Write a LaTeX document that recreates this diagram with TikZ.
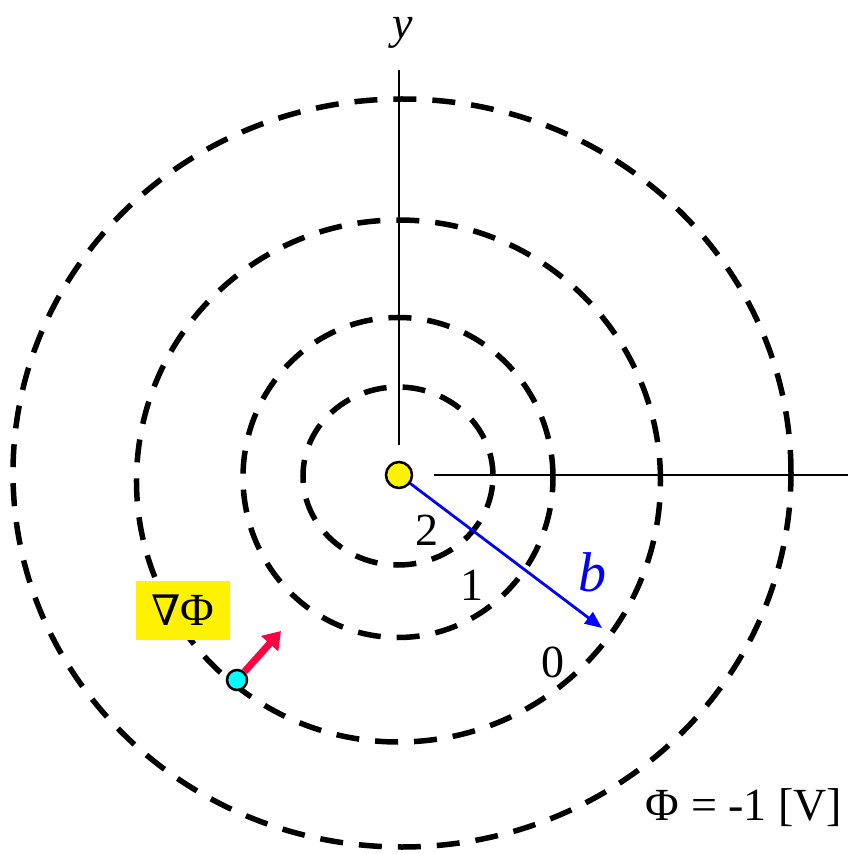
\documentclass[tikz,border=0pt]{standalone}
\usepackage{fontspec}
\setmainfont{Liberation Serif}
\newfontfamily\nablafont{DejaVu Serif}
\usetikzlibrary{arrows.meta, positioning}
\definecolor{gradred}{RGB}{255,0,64}
\definecolor{dotcyan}{RGB}{0,255,255}

\begin{document}
\begin{tikzpicture}[x=1pt, y=1pt,
    level/.style={draw, dash pattern=on 23pt off 16pt, line width=5.5pt},
    axis/.style={line width=2.5pt},
    lbl/.style={font=\fontsize{46}{50}\selectfont, inner sep=0pt}]
    \useasboundingbox (-399,-379) rectangle (449,475);
    % equipotential lines
    \foreach \cx/\cy/\rx/\ry in {-1/-1/95/89, -1/-2.5/155/160, -0.5/-6/262/261, 3/2/389/374} {
        \draw[level] (\cx,\cy) ellipse [x radius=\rx, y radius=\ry];
    }
    % axes
    \coordinate (ytop) at (0,405);
    \coordinate (ybot) at (0,30);
    \coordinate (xleft) at (35,0);
    \coordinate (xright) at (449,0);
    \draw[axis] (ytop) -- (ybot);
    \draw[axis] (xleft) -- (xright);
    \node[lbl, font=\fontsize{46}{50}\selectfont\itshape] (ylab) at (4,442) {y};
    % charge and vector b
    \coordinate (btip) at (203,-153);
    \draw[blue, line width=2.8pt, -{Triangle[length=17pt, width=14pt]}] (0,0) -- (btip);
    \node[circle, draw, line width=2.5pt, fill=yellow, minimum size=26pt, inner sep=0pt] (charge) at (0,0) {};
    \node[lbl, blue, font=\fontsize{56}{60}\selectfont\itshape] (blab) at (193,-97) {b};
    % potential values
    \node[lbl] (v2) at (28,-55) {2};
    \node[lbl] (v1) at (73,-110) {1};
    \node[lbl] (v0) at (154,-187) {0};
    \node[lbl] (vm1) at (345,-333) {Φ = -1 [V]};
    % gradient
    \node[circle, draw, line width=2.5pt, fill=dotcyan, minimum size=20pt, inner sep=0pt] (pt) at (-162,-205) {};
    \coordinate (gradtip) at (-118,-156);
    \draw[gradred, line width=7pt, -{Triangle[length=17pt, width=22pt]}] (pt) -- (gradtip);
    \node[lbl, fill=yellow, minimum width=94pt, minimum height=59pt] (grad) at (-216,-135.5) {{\nablafont\fontsize{42}{50}\selectfont ∇}Φ};
\end{tikzpicture}
\end{document}
